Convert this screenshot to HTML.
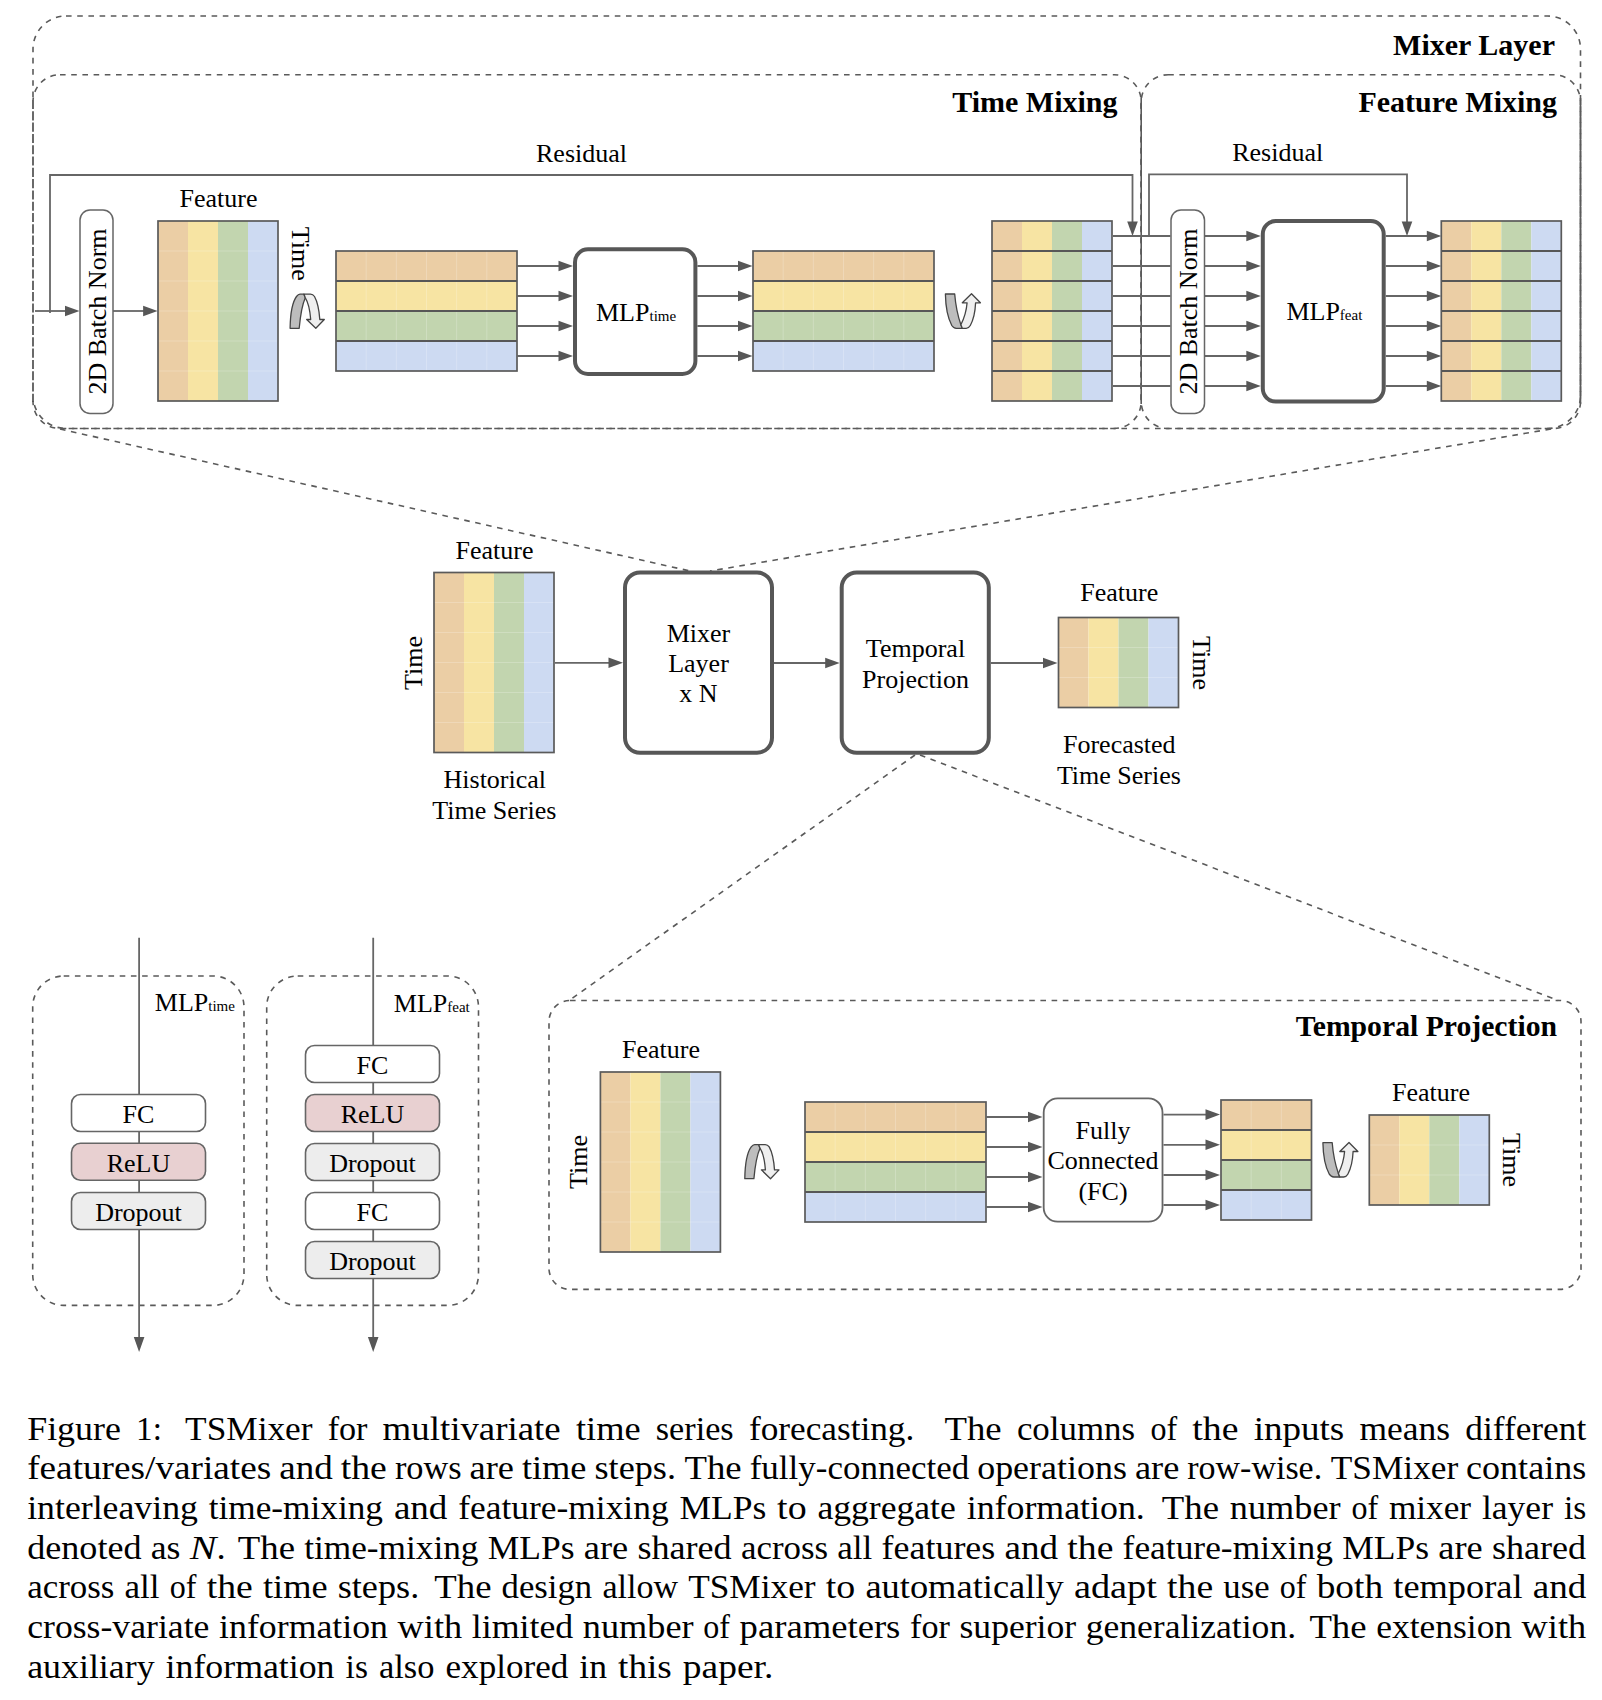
<!DOCTYPE html>
<html><head><meta charset="utf-8"><title>TSMixer figure</title>
<style>
html,body{margin:0;padding:0;background:#fff;}
body{width:1602px;height:1700px;position:relative;overflow:hidden;}
svg{position:absolute;left:0;top:0;}
svg text{font-family:'Liberation Serif', serif;fill:#000;}
</style></head><body>
<svg width="1602" height="1700" viewBox="0 0 1602 1700">
<rect x="33" y="16" width="1547.50" height="412.50" rx="33" ry="33" fill="none" stroke="#5a5a5a" stroke-width="1.6" stroke-dasharray="5.6 5.6"/>
<rect x="33" y="74.7" width="1108.20" height="353.80" rx="27" ry="27" fill="none" stroke="#5a5a5a" stroke-width="1.6" stroke-dasharray="5.6 5.6"/>
<rect x="1141.2" y="74.7" width="439.30" height="353.80" rx="27" ry="27" fill="none" stroke="#5a5a5a" stroke-width="1.6" stroke-dasharray="5.6 5.6"/>
<line x1="33" y1="100" x2="33" y2="401" stroke="#ffffff" stroke-width="3.2"/>
<line x1="33" y1="100" x2="33" y2="402" stroke="#505050" stroke-width="1.7" stroke-dasharray="9.1 2.2"/>
<line x1="1141.2" y1="98" x2="1141.2" y2="404" stroke="#5a5a5a" stroke-width="1.6"/>
<line x1="1580.5" y1="98" x2="1580.5" y2="404" stroke="#5a5a5a" stroke-width="1.6"/>
<text x="1555" y="55" font-size="30" text-anchor="end" font-weight="bold" >Mixer Layer</text>
<text x="1117.5" y="112.4" font-size="30" text-anchor="end" font-weight="bold" >Time Mixing</text>
<text x="1557" y="112" font-size="30" text-anchor="end" font-weight="bold" >Feature Mixing</text>
<path d="M50 313 L50 175 L1132.5 175 L1132.5 222" fill="none" stroke="#666666" stroke-width="1.8"/>
<path d="M1132.5 236 L1127.2 221.5 L1137.8 221.5 Z" fill="#575757"/>
<text x="581.5" y="161.8" font-size="26" text-anchor="middle" font-weight="normal" >Residual</text>
<line x1="35" y1="311" x2="66.0" y2="311" stroke="#666666" stroke-width="1.8"/>
<path d="M79.5 311 L65.0 305.7 L65.0 316.3 Z" fill="#575757"/>
<rect x="80" y="210" width="33.00" height="203.50" rx="10" ry="10" fill="#fff" stroke="#666666" stroke-width="1.5"/>
<text transform="translate(97.5,311.5) rotate(-90)" x="0" y="8.6" font-size="26" text-anchor="middle">2D Batch Norm</text>
<line x1="113" y1="311" x2="144.1" y2="311" stroke="#666666" stroke-width="1.8"/>
<path d="M157.6 311 L143.1 305.7 L143.1 316.3 Z" fill="#575757"/>
<rect x="158" y="221" width="30" height="180" fill="#EBCEA5"/>
<rect x="188" y="221" width="30" height="180" fill="#F7E4A3"/>
<rect x="218" y="221" width="30" height="180" fill="#C2D5AF"/>
<rect x="248" y="221" width="30" height="180" fill="#CDDAF2"/>
<line x1="158" y1="251" x2="278" y2="251" stroke="#ffffff" stroke-opacity="0.22" stroke-width="1"/>
<line x1="158" y1="281" x2="278" y2="281" stroke="#ffffff" stroke-opacity="0.22" stroke-width="1"/>
<line x1="158" y1="311" x2="278" y2="311" stroke="#ffffff" stroke-opacity="0.22" stroke-width="1"/>
<line x1="158" y1="341" x2="278" y2="341" stroke="#ffffff" stroke-opacity="0.22" stroke-width="1"/>
<line x1="158" y1="371" x2="278" y2="371" stroke="#ffffff" stroke-opacity="0.22" stroke-width="1"/>
<rect x="158" y="221" width="120" height="180" fill="none" stroke="#5a5a5a" stroke-width="1.7"/>
<text x="218.5" y="207" font-size="26" text-anchor="middle" font-weight="normal" >Feature</text>
<text transform="translate(300.5,253.8) rotate(90)" x="0" y="8.6" font-size="26" text-anchor="middle">Time</text>
<g transform="translate(284,288)" stroke="#444" stroke-width="1.3" stroke-linejoin="round"><path d="M6.1 40.3 C6.3 27 8.5 14 12.5 8.5 C13.8 6.8 15 6.2 16 6.2 L20 6.2 L21.3 9.8 C18.5 16 16.5 26 15.2 40.3 Z" fill="#bdbdbd"/><path d="M20 6.2 L26.5 6.2 C28 6.2 29.5 7 30.5 8.5 C33.5 14 35.3 24 35.8 31.5 L40.3 31.5 L31.8 40.3 L22.7 31.5 L26.7 31.5 C26 22 24 14 21.3 9.8 Z" fill="#efefef"/></g>
<rect x="336" y="251" width="181" height="30" fill="#EBCEA5"/>
<rect x="336" y="281" width="181" height="30" fill="#F7E4A3"/>
<rect x="336" y="311" width="181" height="30" fill="#C2D5AF"/>
<rect x="336" y="341" width="181" height="30" fill="#CDDAF2"/>
<line x1="366.17" y1="251" x2="366.17" y2="371" stroke="#ffffff" stroke-opacity="0.22" stroke-width="1"/>
<line x1="396.33" y1="251" x2="396.33" y2="371" stroke="#ffffff" stroke-opacity="0.22" stroke-width="1"/>
<line x1="426.50" y1="251" x2="426.50" y2="371" stroke="#ffffff" stroke-opacity="0.22" stroke-width="1"/>
<line x1="456.67" y1="251" x2="456.67" y2="371" stroke="#ffffff" stroke-opacity="0.22" stroke-width="1"/>
<line x1="486.83" y1="251" x2="486.83" y2="371" stroke="#ffffff" stroke-opacity="0.22" stroke-width="1"/>
<line x1="336" y1="281" x2="517" y2="281" stroke="#575757" stroke-width="1.8"/>
<line x1="336" y1="311" x2="517" y2="311" stroke="#575757" stroke-width="1.8"/>
<line x1="336" y1="341" x2="517" y2="341" stroke="#575757" stroke-width="1.8"/>
<rect x="336" y="251" width="181" height="120" fill="none" stroke="#5a5a5a" stroke-width="1.7"/>
<line x1="517" y1="266" x2="559.5" y2="266" stroke="#666666" stroke-width="1.8"/>
<path d="M573 266 L558.5 260.7 L558.5 271.3 Z" fill="#575757"/>
<line x1="517" y1="296" x2="559.5" y2="296" stroke="#666666" stroke-width="1.8"/>
<path d="M573 296 L558.5 290.7 L558.5 301.3 Z" fill="#575757"/>
<line x1="517" y1="326" x2="559.5" y2="326" stroke="#666666" stroke-width="1.8"/>
<path d="M573 326 L558.5 320.7 L558.5 331.3 Z" fill="#575757"/>
<line x1="517" y1="356" x2="559.5" y2="356" stroke="#666666" stroke-width="1.8"/>
<path d="M573 356 L558.5 350.7 L558.5 361.3 Z" fill="#575757"/>
<rect x="575" y="249.3" width="120.40" height="124.70" rx="13" ry="13" fill="#fff" stroke="#575757" stroke-width="4"/>
<text x="596" y="320.7" font-size="26">MLP<tspan font-size="15">time</tspan></text>
<line x1="697.4" y1="266" x2="739.0" y2="266" stroke="#666666" stroke-width="1.8"/>
<path d="M752.5 266 L738.0 260.7 L738.0 271.3 Z" fill="#575757"/>
<line x1="697.4" y1="296" x2="739.0" y2="296" stroke="#666666" stroke-width="1.8"/>
<path d="M752.5 296 L738.0 290.7 L738.0 301.3 Z" fill="#575757"/>
<line x1="697.4" y1="326" x2="739.0" y2="326" stroke="#666666" stroke-width="1.8"/>
<path d="M752.5 326 L738.0 320.7 L738.0 331.3 Z" fill="#575757"/>
<line x1="697.4" y1="356" x2="739.0" y2="356" stroke="#666666" stroke-width="1.8"/>
<path d="M752.5 356 L738.0 350.7 L738.0 361.3 Z" fill="#575757"/>
<rect x="753" y="251" width="181" height="30" fill="#EBCEA5"/>
<rect x="753" y="281" width="181" height="30" fill="#F7E4A3"/>
<rect x="753" y="311" width="181" height="30" fill="#C2D5AF"/>
<rect x="753" y="341" width="181" height="30" fill="#CDDAF2"/>
<line x1="783.17" y1="251" x2="783.17" y2="371" stroke="#ffffff" stroke-opacity="0.22" stroke-width="1"/>
<line x1="813.33" y1="251" x2="813.33" y2="371" stroke="#ffffff" stroke-opacity="0.22" stroke-width="1"/>
<line x1="843.50" y1="251" x2="843.50" y2="371" stroke="#ffffff" stroke-opacity="0.22" stroke-width="1"/>
<line x1="873.67" y1="251" x2="873.67" y2="371" stroke="#ffffff" stroke-opacity="0.22" stroke-width="1"/>
<line x1="903.83" y1="251" x2="903.83" y2="371" stroke="#ffffff" stroke-opacity="0.22" stroke-width="1"/>
<line x1="753" y1="281" x2="934" y2="281" stroke="#575757" stroke-width="1.8"/>
<line x1="753" y1="311" x2="934" y2="311" stroke="#575757" stroke-width="1.8"/>
<line x1="753" y1="341" x2="934" y2="341" stroke="#575757" stroke-width="1.8"/>
<rect x="753" y="251" width="181" height="120" fill="none" stroke="#5a5a5a" stroke-width="1.7"/>
<g transform="translate(940,288)" stroke="#444" stroke-width="1.3" stroke-linejoin="round"><path d="M5.4 6 L14.7 6 C15.5 16 17.5 27 20.9 36.8 L22.3 40.3 L16.3 40.3 C14.5 40.3 13 39.5 11.8 37.5 C7.8 30 5.6 18 5.4 6 Z" fill="#bdbdbd"/><path d="M20.9 36.8 C24.3 30 26.5 22 27.1 14.8 L22.3 14.8 L31.5 5.8 L40.4 14.8 L35.6 14.8 C35.2 24 33.3 32 30.3 37.5 C29.3 39.3 27.8 40.3 26.2 40.3 L22.3 40.3 Z" fill="#efefef"/></g>
<rect x="992" y="221" width="30" height="180" fill="#EBCEA5"/>
<rect x="1022" y="221" width="30" height="180" fill="#F7E4A3"/>
<rect x="1052" y="221" width="30" height="180" fill="#C2D5AF"/>
<rect x="1082" y="221" width="30" height="180" fill="#CDDAF2"/>
<line x1="992" y1="251" x2="1112" y2="251" stroke="#575757" stroke-width="1.8"/>
<line x1="992" y1="281" x2="1112" y2="281" stroke="#575757" stroke-width="1.8"/>
<line x1="992" y1="311" x2="1112" y2="311" stroke="#575757" stroke-width="1.8"/>
<line x1="992" y1="341" x2="1112" y2="341" stroke="#575757" stroke-width="1.8"/>
<line x1="992" y1="371" x2="1112" y2="371" stroke="#575757" stroke-width="1.8"/>
<rect x="992" y="221" width="120" height="180" fill="none" stroke="#5a5a5a" stroke-width="1.7"/>
<line x1="1113" y1="236" x2="1170.5" y2="236" stroke="#666666" stroke-width="1.8"/>
<line x1="1113" y1="266" x2="1170.5" y2="266" stroke="#666666" stroke-width="1.8"/>
<line x1="1113" y1="296" x2="1170.5" y2="296" stroke="#666666" stroke-width="1.8"/>
<line x1="1113" y1="326" x2="1170.5" y2="326" stroke="#666666" stroke-width="1.8"/>
<line x1="1113" y1="356" x2="1170.5" y2="356" stroke="#666666" stroke-width="1.8"/>
<line x1="1113" y1="386" x2="1170.5" y2="386" stroke="#666666" stroke-width="1.8"/>
<path d="M1149 236 L1149 174.3 L1407 174.3 L1407 222" fill="none" stroke="#666666" stroke-width="1.8"/>
<path d="M1407 236 L1401.7 221.5 L1412.3 221.5 Z" fill="#575757"/>
<text x="1277.7" y="161.4" font-size="26" text-anchor="middle" font-weight="normal" >Residual</text>
<rect x="1171" y="210" width="33.50" height="203.50" rx="10" ry="10" fill="#fff" stroke="#666666" stroke-width="1.5"/>
<text transform="translate(1188,311.5) rotate(-90)" x="0" y="8.6" font-size="26" text-anchor="middle">2D Batch Norm</text>
<line x1="1204.5" y1="236" x2="1247.3" y2="236" stroke="#666666" stroke-width="1.8"/>
<path d="M1260.8 236 L1246.3 230.7 L1246.3 241.3 Z" fill="#575757"/>
<line x1="1204.5" y1="266" x2="1247.3" y2="266" stroke="#666666" stroke-width="1.8"/>
<path d="M1260.8 266 L1246.3 260.7 L1246.3 271.3 Z" fill="#575757"/>
<line x1="1204.5" y1="296" x2="1247.3" y2="296" stroke="#666666" stroke-width="1.8"/>
<path d="M1260.8 296 L1246.3 290.7 L1246.3 301.3 Z" fill="#575757"/>
<line x1="1204.5" y1="326" x2="1247.3" y2="326" stroke="#666666" stroke-width="1.8"/>
<path d="M1260.8 326 L1246.3 320.7 L1246.3 331.3 Z" fill="#575757"/>
<line x1="1204.5" y1="356" x2="1247.3" y2="356" stroke="#666666" stroke-width="1.8"/>
<path d="M1260.8 356 L1246.3 350.7 L1246.3 361.3 Z" fill="#575757"/>
<line x1="1204.5" y1="386" x2="1247.3" y2="386" stroke="#666666" stroke-width="1.8"/>
<path d="M1260.8 386 L1246.3 380.7 L1246.3 391.3 Z" fill="#575757"/>
<rect x="1262.8" y="221" width="120.90" height="180.60" rx="13" ry="13" fill="#fff" stroke="#575757" stroke-width="4"/>
<text x="1286.4" y="320.4" font-size="26">MLP<tspan font-size="15">feat</tspan></text>
<line x1="1385.7" y1="236" x2="1427.8" y2="236" stroke="#666666" stroke-width="1.8"/>
<path d="M1441.3 236 L1426.8 230.7 L1426.8 241.3 Z" fill="#575757"/>
<line x1="1385.7" y1="266" x2="1427.8" y2="266" stroke="#666666" stroke-width="1.8"/>
<path d="M1441.3 266 L1426.8 260.7 L1426.8 271.3 Z" fill="#575757"/>
<line x1="1385.7" y1="296" x2="1427.8" y2="296" stroke="#666666" stroke-width="1.8"/>
<path d="M1441.3 296 L1426.8 290.7 L1426.8 301.3 Z" fill="#575757"/>
<line x1="1385.7" y1="326" x2="1427.8" y2="326" stroke="#666666" stroke-width="1.8"/>
<path d="M1441.3 326 L1426.8 320.7 L1426.8 331.3 Z" fill="#575757"/>
<line x1="1385.7" y1="356" x2="1427.8" y2="356" stroke="#666666" stroke-width="1.8"/>
<path d="M1441.3 356 L1426.8 350.7 L1426.8 361.3 Z" fill="#575757"/>
<line x1="1385.7" y1="386" x2="1427.8" y2="386" stroke="#666666" stroke-width="1.8"/>
<path d="M1441.3 386 L1426.8 380.7 L1426.8 391.3 Z" fill="#575757"/>
<rect x="1441.3" y="221" width="30" height="180" fill="#EBCEA5"/>
<rect x="1471.3" y="221" width="30" height="180" fill="#F7E4A3"/>
<rect x="1501.3" y="221" width="30" height="180" fill="#C2D5AF"/>
<rect x="1531.3" y="221" width="30" height="180" fill="#CDDAF2"/>
<line x1="1441.3" y1="251" x2="1561.3" y2="251" stroke="#575757" stroke-width="1.8"/>
<line x1="1441.3" y1="281" x2="1561.3" y2="281" stroke="#575757" stroke-width="1.8"/>
<line x1="1441.3" y1="311" x2="1561.3" y2="311" stroke="#575757" stroke-width="1.8"/>
<line x1="1441.3" y1="341" x2="1561.3" y2="341" stroke="#575757" stroke-width="1.8"/>
<line x1="1441.3" y1="371" x2="1561.3" y2="371" stroke="#575757" stroke-width="1.8"/>
<rect x="1441.3" y="221" width="120" height="180" fill="none" stroke="#5a5a5a" stroke-width="1.7"/>
<line x1="60" y1="429" x2="690" y2="571" stroke="#5a5a5a" stroke-width="1.6" stroke-dasharray="5.6 5.6"/>
<line x1="1551" y1="429" x2="710" y2="571" stroke="#5a5a5a" stroke-width="1.6" stroke-dasharray="5.6 5.6"/>
<rect x="434" y="572.5" width="30" height="180" fill="#EBCEA5"/>
<rect x="464" y="572.5" width="30" height="180" fill="#F7E4A3"/>
<rect x="494" y="572.5" width="30" height="180" fill="#C2D5AF"/>
<rect x="524" y="572.5" width="30" height="180" fill="#CDDAF2"/>
<line x1="434" y1="602.5" x2="554" y2="602.5" stroke="#ffffff" stroke-opacity="0.22" stroke-width="1"/>
<line x1="434" y1="632.5" x2="554" y2="632.5" stroke="#ffffff" stroke-opacity="0.22" stroke-width="1"/>
<line x1="434" y1="662.5" x2="554" y2="662.5" stroke="#ffffff" stroke-opacity="0.22" stroke-width="1"/>
<line x1="434" y1="692.5" x2="554" y2="692.5" stroke="#ffffff" stroke-opacity="0.22" stroke-width="1"/>
<line x1="434" y1="722.5" x2="554" y2="722.5" stroke="#ffffff" stroke-opacity="0.22" stroke-width="1"/>
<rect x="434" y="572.5" width="120" height="180" fill="none" stroke="#5a5a5a" stroke-width="1.7"/>
<text x="494.5" y="558.6" font-size="26" text-anchor="middle" font-weight="normal" >Feature</text>
<text transform="translate(413,663) rotate(-90)" x="0" y="8.6" font-size="26" text-anchor="middle">Time</text>
<text x="494.8" y="787.6" font-size="26" text-anchor="middle" font-weight="normal" >Historical</text>
<text x="494.3" y="819.3" font-size="26" text-anchor="middle" font-weight="normal" >Time Series</text>
<line x1="555" y1="662.8" x2="609.5" y2="662.8" stroke="#666666" stroke-width="1.8"/>
<path d="M623 662.8 L608.5 657.5 L608.5 668.0999999999999 Z" fill="#575757"/>
<rect x="625" y="572.5" width="147.00" height="180.20" rx="15" ry="15" fill="#fff" stroke="#575757" stroke-width="4"/>
<text x="698.5" y="642" font-size="26" text-anchor="middle" font-weight="normal" >Mixer</text>
<text x="698.5" y="672.3" font-size="26" text-anchor="middle" font-weight="normal" >Layer</text>
<text x="698.5" y="702.3" font-size="26" text-anchor="middle" font-weight="normal" >x N</text>
<line x1="774" y1="663" x2="826.2" y2="663" stroke="#666666" stroke-width="1.8"/>
<path d="M839.7 663 L825.2 657.7 L825.2 668.3 Z" fill="#575757"/>
<rect x="841.7" y="572.5" width="147.10" height="180.20" rx="15" ry="15" fill="#fff" stroke="#575757" stroke-width="4"/>
<text x="915.5" y="657" font-size="26" text-anchor="middle" font-weight="normal" >Temporal</text>
<text x="915.5" y="687.8" font-size="26" text-anchor="middle" font-weight="normal" >Projection</text>
<line x1="990.8" y1="663" x2="1044.0" y2="663" stroke="#666666" stroke-width="1.8"/>
<path d="M1057.5 663 L1043.0 657.7 L1043.0 668.3 Z" fill="#575757"/>
<rect x="1058.5" y="617.5" width="30" height="90" fill="#EBCEA5"/>
<rect x="1088.5" y="617.5" width="30" height="90" fill="#F7E4A3"/>
<rect x="1118.5" y="617.5" width="30" height="90" fill="#C2D5AF"/>
<rect x="1148.5" y="617.5" width="30" height="90" fill="#CDDAF2"/>
<line x1="1058.5" y1="647.5" x2="1178.5" y2="647.5" stroke="#ffffff" stroke-opacity="0.22" stroke-width="1"/>
<line x1="1058.5" y1="677.5" x2="1178.5" y2="677.5" stroke="#ffffff" stroke-opacity="0.22" stroke-width="1"/>
<rect x="1058.5" y="617.5" width="120" height="90" fill="none" stroke="#5a5a5a" stroke-width="1.7"/>
<text x="1119.2" y="601.2" font-size="26" text-anchor="middle" font-weight="normal" >Feature</text>
<text transform="translate(1201.5,663) rotate(90)" x="0" y="8.6" font-size="26" text-anchor="middle">Time</text>
<text x="1119.3" y="753.4" font-size="26" text-anchor="middle" font-weight="normal" >Forecasted</text>
<text x="1118.9" y="783.8" font-size="26" text-anchor="middle" font-weight="normal" >Time Series</text>
<line x1="915" y1="755" x2="569" y2="1000.5" stroke="#5a5a5a" stroke-width="1.6" stroke-dasharray="5.6 5.6"/>
<line x1="920" y1="755" x2="1558" y2="1000.5" stroke="#5a5a5a" stroke-width="1.6" stroke-dasharray="5.6 5.6"/>
<rect x="549" y="1000.5" width="1032.00" height="288.90" rx="21" ry="21" fill="none" stroke="#5a5a5a" stroke-width="1.6" stroke-dasharray="5.6 5.6"/>
<text x="1557" y="1036.4" font-size="29.7" text-anchor="end" font-weight="bold" >Temporal Projection</text>
<rect x="600.4" y="1072" width="30" height="180" fill="#EBCEA5"/>
<rect x="630.4" y="1072" width="30" height="180" fill="#F7E4A3"/>
<rect x="660.4" y="1072" width="30" height="180" fill="#C2D5AF"/>
<rect x="690.4" y="1072" width="30" height="180" fill="#CDDAF2"/>
<line x1="600.4" y1="1102" x2="720.4" y2="1102" stroke="#ffffff" stroke-opacity="0.22" stroke-width="1"/>
<line x1="600.4" y1="1132" x2="720.4" y2="1132" stroke="#ffffff" stroke-opacity="0.22" stroke-width="1"/>
<line x1="600.4" y1="1162" x2="720.4" y2="1162" stroke="#ffffff" stroke-opacity="0.22" stroke-width="1"/>
<line x1="600.4" y1="1192" x2="720.4" y2="1192" stroke="#ffffff" stroke-opacity="0.22" stroke-width="1"/>
<line x1="600.4" y1="1222" x2="720.4" y2="1222" stroke="#ffffff" stroke-opacity="0.22" stroke-width="1"/>
<rect x="600.4" y="1072" width="120" height="180" fill="none" stroke="#5a5a5a" stroke-width="1.7"/>
<text x="661" y="1058.2" font-size="26" text-anchor="middle" font-weight="normal" >Feature</text>
<text transform="translate(578,1162) rotate(-90)" x="0" y="8.6" font-size="26" text-anchor="middle">Time</text>
<g transform="translate(738.7,1138.4)" stroke="#444" stroke-width="1.3" stroke-linejoin="round"><path d="M6.1 40.3 C6.3 27 8.5 14 12.5 8.5 C13.8 6.8 15 6.2 16 6.2 L20 6.2 L21.3 9.8 C18.5 16 16.5 26 15.2 40.3 Z" fill="#bdbdbd"/><path d="M20 6.2 L26.5 6.2 C28 6.2 29.5 7 30.5 8.5 C33.5 14 35.3 24 35.8 31.5 L40.3 31.5 L31.8 40.3 L22.7 31.5 L26.7 31.5 C26 22 24 14 21.3 9.8 Z" fill="#efefef"/></g>
<rect x="805" y="1102" width="181" height="30" fill="#EBCEA5"/>
<rect x="805" y="1132" width="181" height="30" fill="#F7E4A3"/>
<rect x="805" y="1162" width="181" height="30" fill="#C2D5AF"/>
<rect x="805" y="1192" width="181" height="30" fill="#CDDAF2"/>
<line x1="835.17" y1="1102" x2="835.17" y2="1222" stroke="#ffffff" stroke-opacity="0.22" stroke-width="1"/>
<line x1="865.33" y1="1102" x2="865.33" y2="1222" stroke="#ffffff" stroke-opacity="0.22" stroke-width="1"/>
<line x1="895.50" y1="1102" x2="895.50" y2="1222" stroke="#ffffff" stroke-opacity="0.22" stroke-width="1"/>
<line x1="925.67" y1="1102" x2="925.67" y2="1222" stroke="#ffffff" stroke-opacity="0.22" stroke-width="1"/>
<line x1="955.83" y1="1102" x2="955.83" y2="1222" stroke="#ffffff" stroke-opacity="0.22" stroke-width="1"/>
<line x1="805" y1="1132" x2="986" y2="1132" stroke="#575757" stroke-width="1.8"/>
<line x1="805" y1="1162" x2="986" y2="1162" stroke="#575757" stroke-width="1.8"/>
<line x1="805" y1="1192" x2="986" y2="1192" stroke="#575757" stroke-width="1.8"/>
<rect x="805" y="1102" width="181" height="120" fill="none" stroke="#5a5a5a" stroke-width="1.7"/>
<line x1="986" y1="1117" x2="1029.0" y2="1117" stroke="#666666" stroke-width="1.8"/>
<path d="M1042.5 1117 L1028.0 1111.7 L1028.0 1122.3 Z" fill="#575757"/>
<line x1="986" y1="1147" x2="1029.0" y2="1147" stroke="#666666" stroke-width="1.8"/>
<path d="M1042.5 1147 L1028.0 1141.7 L1028.0 1152.3 Z" fill="#575757"/>
<line x1="986" y1="1177" x2="1029.0" y2="1177" stroke="#666666" stroke-width="1.8"/>
<path d="M1042.5 1177 L1028.0 1171.7 L1028.0 1182.3 Z" fill="#575757"/>
<line x1="986" y1="1207" x2="1029.0" y2="1207" stroke="#666666" stroke-width="1.8"/>
<path d="M1042.5 1207 L1028.0 1201.7 L1028.0 1212.3 Z" fill="#575757"/>
<rect x="1043.7" y="1098.4" width="118.80" height="123.30" rx="14" ry="14" fill="#fff" stroke="#666666" stroke-width="1.8"/>
<text x="1103" y="1139" font-size="26" text-anchor="middle" font-weight="normal" >Fully</text>
<text x="1103" y="1169" font-size="26" text-anchor="middle" font-weight="normal" >Connected</text>
<text x="1103" y="1199.9" font-size="26" text-anchor="middle" font-weight="normal" >(FC)</text>
<line x1="1163.5" y1="1114.6" x2="1206.5" y2="1114.6" stroke="#666666" stroke-width="1.8"/>
<path d="M1220 1114.6 L1205.5 1109.3 L1205.5 1119.8999999999999 Z" fill="#575757"/>
<line x1="1163.5" y1="1144.8" x2="1206.5" y2="1144.8" stroke="#666666" stroke-width="1.8"/>
<path d="M1220 1144.8 L1205.5 1139.5 L1205.5 1150.1 Z" fill="#575757"/>
<line x1="1163.5" y1="1175" x2="1206.5" y2="1175" stroke="#666666" stroke-width="1.8"/>
<path d="M1220 1175 L1205.5 1169.7 L1205.5 1180.3 Z" fill="#575757"/>
<line x1="1163.5" y1="1205" x2="1206.5" y2="1205" stroke="#666666" stroke-width="1.8"/>
<path d="M1220 1205 L1205.5 1199.7 L1205.5 1210.3 Z" fill="#575757"/>
<rect x="1221" y="1100" width="90.5" height="30" fill="#EBCEA5"/>
<rect x="1221" y="1130" width="90.5" height="30" fill="#F7E4A3"/>
<rect x="1221" y="1160" width="90.5" height="30" fill="#C2D5AF"/>
<rect x="1221" y="1190" width="90.5" height="30" fill="#CDDAF2"/>
<line x1="1251.17" y1="1100" x2="1251.17" y2="1220" stroke="#ffffff" stroke-opacity="0.22" stroke-width="1"/>
<line x1="1281.33" y1="1100" x2="1281.33" y2="1220" stroke="#ffffff" stroke-opacity="0.22" stroke-width="1"/>
<line x1="1221" y1="1130" x2="1311.5" y2="1130" stroke="#575757" stroke-width="1.8"/>
<line x1="1221" y1="1160" x2="1311.5" y2="1160" stroke="#575757" stroke-width="1.8"/>
<line x1="1221" y1="1190" x2="1311.5" y2="1190" stroke="#575757" stroke-width="1.8"/>
<rect x="1221" y="1100" width="90.5" height="120" fill="none" stroke="#5a5a5a" stroke-width="1.7"/>
<g transform="translate(1317.5,1136.7)" stroke="#444" stroke-width="1.3" stroke-linejoin="round"><path d="M5.4 6 L14.7 6 C15.5 16 17.5 27 20.9 36.8 L22.3 40.3 L16.3 40.3 C14.5 40.3 13 39.5 11.8 37.5 C7.8 30 5.6 18 5.4 6 Z" fill="#bdbdbd"/><path d="M20.9 36.8 C24.3 30 26.5 22 27.1 14.8 L22.3 14.8 L31.5 5.8 L40.4 14.8 L35.6 14.8 C35.2 24 33.3 32 30.3 37.5 C29.3 39.3 27.8 40.3 26.2 40.3 L22.3 40.3 Z" fill="#efefef"/></g>
<rect x="1369.3" y="1115" width="30" height="90" fill="#EBCEA5"/>
<rect x="1399.3" y="1115" width="30" height="90" fill="#F7E4A3"/>
<rect x="1429.3" y="1115" width="30" height="90" fill="#C2D5AF"/>
<rect x="1459.3" y="1115" width="30" height="90" fill="#CDDAF2"/>
<line x1="1369.3" y1="1145" x2="1489.3" y2="1145" stroke="#ffffff" stroke-opacity="0.22" stroke-width="1"/>
<line x1="1369.3" y1="1175" x2="1489.3" y2="1175" stroke="#ffffff" stroke-opacity="0.22" stroke-width="1"/>
<rect x="1369.3" y="1115" width="120" height="90" fill="none" stroke="#5a5a5a" stroke-width="1.7"/>
<text x="1431" y="1100.9" font-size="26" text-anchor="middle" font-weight="normal" >Feature</text>
<text transform="translate(1511.7,1160) rotate(90)" x="0" y="8.6" font-size="26" text-anchor="middle">Time</text>
<rect x="32.7" y="976" width="211.30" height="329.40" rx="31" ry="31" fill="none" stroke="#5a5a5a" stroke-width="1.6" stroke-dasharray="5.6 5.6"/>
<line x1="139.1" y1="937.7" x2="139.1" y2="1338" stroke="#666666" stroke-width="1.8"/>
<path d="M139.1 1352 L133.79999999999998 1337 L144.4 1337 Z" fill="#575757"/>
<rect x="71.5" y="1094.5" width="134.00" height="37.00" rx="9" ry="9" fill="#ffffff" stroke="#666666" stroke-width="1.6"/>
<text x="138.5" y="1122.7" font-size="26" text-anchor="middle" font-weight="normal" >FC</text>
<rect x="71.5" y="1143.3" width="134.00" height="37.00" rx="9" ry="9" fill="#E8D0D1" stroke="#666666" stroke-width="1.6"/>
<text x="138.5" y="1171.5" font-size="26" text-anchor="middle" font-weight="normal" >ReLU</text>
<rect x="71.5" y="1192.5" width="134.00" height="37.00" rx="9" ry="9" fill="#EDEDED" stroke="#666666" stroke-width="1.6"/>
<text x="138.5" y="1220.7" font-size="26" text-anchor="middle" font-weight="normal" >Dropout</text>
<text x="154.8" y="1011.4" font-size="26">MLP<tspan font-size="15">time</tspan></text>
<rect x="266.7" y="976" width="211.80" height="329.40" rx="31" ry="31" fill="none" stroke="#5a5a5a" stroke-width="1.6" stroke-dasharray="5.6 5.6"/>
<line x1="373.2" y1="937.7" x2="373.2" y2="1338" stroke="#666666" stroke-width="1.8"/>
<path d="M373.2 1352 L367.9 1337 L378.5 1337 Z" fill="#575757"/>
<rect x="305.5" y="1045.5" width="134.00" height="37.00" rx="9" ry="9" fill="#ffffff" stroke="#666666" stroke-width="1.6"/>
<text x="372.5" y="1073.7" font-size="26" text-anchor="middle" font-weight="normal" >FC</text>
<rect x="305.5" y="1094.5" width="134.00" height="37.00" rx="9" ry="9" fill="#E8D0D1" stroke="#666666" stroke-width="1.6"/>
<text x="372.5" y="1122.7" font-size="26" text-anchor="middle" font-weight="normal" >ReLU</text>
<rect x="305.5" y="1143.5" width="134.00" height="37.00" rx="9" ry="9" fill="#EDEDED" stroke="#666666" stroke-width="1.6"/>
<text x="372.5" y="1171.7" font-size="26" text-anchor="middle" font-weight="normal" >Dropout</text>
<rect x="305.5" y="1192.5" width="134.00" height="37.00" rx="9" ry="9" fill="#ffffff" stroke="#666666" stroke-width="1.6"/>
<text x="372.5" y="1220.7" font-size="26" text-anchor="middle" font-weight="normal" >FC</text>
<rect x="305.5" y="1241.5" width="134.00" height="37.00" rx="9" ry="9" fill="#EDEDED" stroke="#666666" stroke-width="1.6"/>
<text x="372.5" y="1269.7" font-size="26" text-anchor="middle" font-weight="normal" >Dropout</text>
<text x="393.8" y="1011.5" font-size="26">MLP<tspan font-size="15">feat</tspan></text>
<text x="27.2" y="1439.6" font-size="34" textLength="93.7" lengthAdjust="spacingAndGlyphs">Figure</text>
<text x="136.1" y="1439.6" font-size="34" textLength="25.8" lengthAdjust="spacingAndGlyphs">1:</text>
<text x="185.1" y="1439.6" font-size="34" textLength="127.4" lengthAdjust="spacingAndGlyphs">TSMixer</text>
<text x="327.7" y="1439.6" font-size="34" textLength="39.8" lengthAdjust="spacingAndGlyphs">for</text>
<text x="382.6" y="1439.6" font-size="34" textLength="178.1" lengthAdjust="spacingAndGlyphs">multivariate</text>
<text x="576.0" y="1439.6" font-size="34" textLength="64.6" lengthAdjust="spacingAndGlyphs">time</text>
<text x="655.8" y="1439.6" font-size="34" textLength="77.9" lengthAdjust="spacingAndGlyphs">series</text>
<text x="748.9" y="1439.6" font-size="34" textLength="165.4" lengthAdjust="spacingAndGlyphs">forecasting.</text>
<text x="944.5" y="1439.6" font-size="34" textLength="57.2" lengthAdjust="spacingAndGlyphs">The</text>
<text x="1016.9" y="1439.6" font-size="34" textLength="118.2" lengthAdjust="spacingAndGlyphs">columns</text>
<text x="1150.4" y="1439.6" font-size="34" textLength="26.7" lengthAdjust="spacingAndGlyphs">of</text>
<text x="1192.3" y="1439.6" font-size="34" textLength="46.1" lengthAdjust="spacingAndGlyphs">the</text>
<text x="1253.7" y="1439.6" font-size="34" textLength="90.6" lengthAdjust="spacingAndGlyphs">inputs</text>
<text x="1359.5" y="1439.6" font-size="34" textLength="90.6" lengthAdjust="spacingAndGlyphs">means</text>
<text x="1465.3" y="1439.6" font-size="34" textLength="120.9" lengthAdjust="spacingAndGlyphs">different</text>
<text x="27.2" y="1479.3" font-size="34" textLength="244.0" lengthAdjust="spacingAndGlyphs">features/variates</text>
<text x="279.2" y="1479.3" font-size="34" textLength="53.5" lengthAdjust="spacingAndGlyphs">and</text>
<text x="340.7" y="1479.3" font-size="34" textLength="46.1" lengthAdjust="spacingAndGlyphs">the</text>
<text x="394.9" y="1479.3" font-size="34" textLength="66.7" lengthAdjust="spacingAndGlyphs">rows</text>
<text x="469.5" y="1479.3" font-size="34" textLength="44.4" lengthAdjust="spacingAndGlyphs">are</text>
<text x="521.9" y="1479.3" font-size="34" textLength="64.6" lengthAdjust="spacingAndGlyphs">time</text>
<text x="594.5" y="1479.3" font-size="34" textLength="81.5" lengthAdjust="spacingAndGlyphs">steps.</text>
<text x="684.5" y="1479.3" font-size="34" textLength="57.2" lengthAdjust="spacingAndGlyphs">The</text>
<text x="749.7" y="1479.3" font-size="34" textLength="219.5" lengthAdjust="spacingAndGlyphs">fully-connected</text>
<text x="977.2" y="1479.3" font-size="34" textLength="149.7" lengthAdjust="spacingAndGlyphs">operations</text>
<text x="1134.9" y="1479.3" font-size="34" textLength="44.4" lengthAdjust="spacingAndGlyphs">are</text>
<text x="1187.3" y="1479.3" font-size="34" textLength="134.9" lengthAdjust="spacingAndGlyphs">row-wise.</text>
<text x="1330.8" y="1479.3" font-size="34" textLength="127.4" lengthAdjust="spacingAndGlyphs">TSMixer</text>
<text x="1466.1" y="1479.3" font-size="34" textLength="120.1" lengthAdjust="spacingAndGlyphs">contains</text>
<text x="27.2" y="1519.0" font-size="34" textLength="170.7" lengthAdjust="spacingAndGlyphs">interleaving</text>
<text x="208.7" y="1519.0" font-size="34" textLength="174.3" lengthAdjust="spacingAndGlyphs">time-mixing</text>
<text x="393.9" y="1519.0" font-size="34" textLength="53.5" lengthAdjust="spacingAndGlyphs">and</text>
<text x="458.2" y="1519.0" font-size="34" textLength="210.4" lengthAdjust="spacingAndGlyphs">feature-mixing</text>
<text x="679.4" y="1519.0" font-size="34" textLength="86.9" lengthAdjust="spacingAndGlyphs">MLPs</text>
<text x="777.1" y="1519.0" font-size="34" textLength="29.5" lengthAdjust="spacingAndGlyphs">to</text>
<text x="817.4" y="1519.0" font-size="34" textLength="138.4" lengthAdjust="spacingAndGlyphs">aggregate</text>
<text x="966.7" y="1519.0" font-size="34" textLength="178.1" lengthAdjust="spacingAndGlyphs">information.</text>
<text x="1161.8" y="1519.0" font-size="34" textLength="57.2" lengthAdjust="spacingAndGlyphs">The</text>
<text x="1229.8" y="1519.0" font-size="34" textLength="110.8" lengthAdjust="spacingAndGlyphs">number</text>
<text x="1351.4" y="1519.0" font-size="34" textLength="26.7" lengthAdjust="spacingAndGlyphs">of</text>
<text x="1388.9" y="1519.0" font-size="34" textLength="82.2" lengthAdjust="spacingAndGlyphs">mixer</text>
<text x="1481.9" y="1519.0" font-size="34" textLength="71.1" lengthAdjust="spacingAndGlyphs">layer</text>
<text x="1563.9" y="1519.0" font-size="34" textLength="22.3" lengthAdjust="spacingAndGlyphs">is</text>
<text x="27.2" y="1558.7" font-size="34" textLength="114.4" lengthAdjust="spacingAndGlyphs">denoted</text>
<text x="150.8" y="1558.7" font-size="34" textLength="29.7" lengthAdjust="spacingAndGlyphs">as</text>
<text x="189.7" y="1558.7" font-size="34" font-style="italic" textLength="26.7" lengthAdjust="spacingAndGlyphs">N</text>
<text x="216.4" y="1558.7" font-size="34" textLength="9.2" lengthAdjust="spacingAndGlyphs">.</text>
<text x="237.8" y="1558.7" font-size="34" textLength="57.2" lengthAdjust="spacingAndGlyphs">The</text>
<text x="304.2" y="1558.7" font-size="34" textLength="174.3" lengthAdjust="spacingAndGlyphs">time-mixing</text>
<text x="487.7" y="1558.7" font-size="34" textLength="86.9" lengthAdjust="spacingAndGlyphs">MLPs</text>
<text x="583.8" y="1558.7" font-size="34" textLength="44.4" lengthAdjust="spacingAndGlyphs">are</text>
<text x="637.4" y="1558.7" font-size="34" textLength="94.3" lengthAdjust="spacingAndGlyphs">shared</text>
<text x="741.0" y="1558.7" font-size="34" textLength="87.1" lengthAdjust="spacingAndGlyphs">across</text>
<text x="837.3" y="1558.7" font-size="34" textLength="35.0" lengthAdjust="spacingAndGlyphs">all</text>
<text x="881.6" y="1558.7" font-size="34" textLength="113.7" lengthAdjust="spacingAndGlyphs">features</text>
<text x="1004.5" y="1558.7" font-size="34" textLength="53.5" lengthAdjust="spacingAndGlyphs">and</text>
<text x="1067.3" y="1558.7" font-size="34" textLength="46.1" lengthAdjust="spacingAndGlyphs">the</text>
<text x="1122.6" y="1558.7" font-size="34" textLength="210.4" lengthAdjust="spacingAndGlyphs">feature-mixing</text>
<text x="1342.2" y="1558.7" font-size="34" textLength="86.9" lengthAdjust="spacingAndGlyphs">MLPs</text>
<text x="1438.3" y="1558.7" font-size="34" textLength="44.4" lengthAdjust="spacingAndGlyphs">are</text>
<text x="1491.9" y="1558.7" font-size="34" textLength="94.3" lengthAdjust="spacingAndGlyphs">shared</text>
<text x="27.2" y="1598.4" font-size="34" textLength="87.1" lengthAdjust="spacingAndGlyphs">across</text>
<text x="124.5" y="1598.4" font-size="34" textLength="35.0" lengthAdjust="spacingAndGlyphs">all</text>
<text x="169.8" y="1598.4" font-size="34" textLength="26.7" lengthAdjust="spacingAndGlyphs">of</text>
<text x="206.7" y="1598.4" font-size="34" textLength="46.1" lengthAdjust="spacingAndGlyphs">the</text>
<text x="263.0" y="1598.4" font-size="34" textLength="64.6" lengthAdjust="spacingAndGlyphs">time</text>
<text x="337.7" y="1598.4" font-size="34" textLength="81.5" lengthAdjust="spacingAndGlyphs">steps.</text>
<text x="434.3" y="1598.4" font-size="34" textLength="57.2" lengthAdjust="spacingAndGlyphs">The</text>
<text x="501.6" y="1598.4" font-size="34" textLength="90.6" lengthAdjust="spacingAndGlyphs">design</text>
<text x="602.4" y="1598.4" font-size="34" textLength="75.6" lengthAdjust="spacingAndGlyphs">allow</text>
<text x="688.2" y="1598.4" font-size="34" textLength="127.4" lengthAdjust="spacingAndGlyphs">TSMixer</text>
<text x="825.7" y="1598.4" font-size="34" textLength="29.5" lengthAdjust="spacingAndGlyphs">to</text>
<text x="865.4" y="1598.4" font-size="34" textLength="198.3" lengthAdjust="spacingAndGlyphs">automatically</text>
<text x="1073.9" y="1598.4" font-size="34" textLength="83.0" lengthAdjust="spacingAndGlyphs">adapt</text>
<text x="1167.1" y="1598.4" font-size="34" textLength="46.1" lengthAdjust="spacingAndGlyphs">the</text>
<text x="1223.3" y="1598.4" font-size="34" textLength="46.3" lengthAdjust="spacingAndGlyphs">use</text>
<text x="1279.8" y="1598.4" font-size="34" textLength="26.7" lengthAdjust="spacingAndGlyphs">of</text>
<text x="1316.7" y="1598.4" font-size="34" textLength="66.4" lengthAdjust="spacingAndGlyphs">both</text>
<text x="1393.3" y="1598.4" font-size="34" textLength="129.2" lengthAdjust="spacingAndGlyphs">temporal</text>
<text x="1532.7" y="1598.4" font-size="34" textLength="53.5" lengthAdjust="spacingAndGlyphs">and</text>
<text x="27.2" y="1638.1" font-size="34" textLength="182.2" lengthAdjust="spacingAndGlyphs">cross-variate</text>
<text x="219.1" y="1638.1" font-size="34" textLength="168.9" lengthAdjust="spacingAndGlyphs">information</text>
<text x="397.6" y="1638.1" font-size="34" textLength="64.6" lengthAdjust="spacingAndGlyphs">with</text>
<text x="471.8" y="1638.1" font-size="34" textLength="101.4" lengthAdjust="spacingAndGlyphs">limited</text>
<text x="582.8" y="1638.1" font-size="34" textLength="110.8" lengthAdjust="spacingAndGlyphs">number</text>
<text x="703.2" y="1638.1" font-size="34" textLength="26.7" lengthAdjust="spacingAndGlyphs">of</text>
<text x="739.6" y="1638.1" font-size="34" textLength="160.8" lengthAdjust="spacingAndGlyphs">parameters</text>
<text x="910.1" y="1638.1" font-size="34" textLength="39.8" lengthAdjust="spacingAndGlyphs">for</text>
<text x="959.5" y="1638.1" font-size="34" textLength="116.6" lengthAdjust="spacingAndGlyphs">superior</text>
<text x="1085.7" y="1638.1" font-size="34" textLength="210.4" lengthAdjust="spacingAndGlyphs">generalization.</text>
<text x="1309.4" y="1638.1" font-size="34" textLength="57.2" lengthAdjust="spacingAndGlyphs">The</text>
<text x="1376.3" y="1638.1" font-size="34" textLength="135.8" lengthAdjust="spacingAndGlyphs">extension</text>
<text x="1521.6" y="1638.1" font-size="34" textLength="64.6" lengthAdjust="spacingAndGlyphs">with</text>
<text x="27.2" y="1677.8" font-size="34" textLength="127.4" lengthAdjust="spacingAndGlyphs">auxiliary</text>
<text x="165.6" y="1677.8" font-size="34" textLength="168.9" lengthAdjust="spacingAndGlyphs">information</text>
<text x="345.6" y="1677.8" font-size="34" textLength="22.3" lengthAdjust="spacingAndGlyphs">is</text>
<text x="378.9" y="1677.8" font-size="34" textLength="55.5" lengthAdjust="spacingAndGlyphs">also</text>
<text x="445.5" y="1677.8" font-size="34" textLength="122.8" lengthAdjust="spacingAndGlyphs">explored</text>
<text x="579.3" y="1677.8" font-size="34" textLength="27.7" lengthAdjust="spacingAndGlyphs">in</text>
<text x="618.1" y="1677.8" font-size="34" textLength="53.7" lengthAdjust="spacingAndGlyphs">this</text>
<text x="682.8" y="1677.8" font-size="34" textLength="90.5" lengthAdjust="spacingAndGlyphs">paper.</text>
</svg>
</body></html>
